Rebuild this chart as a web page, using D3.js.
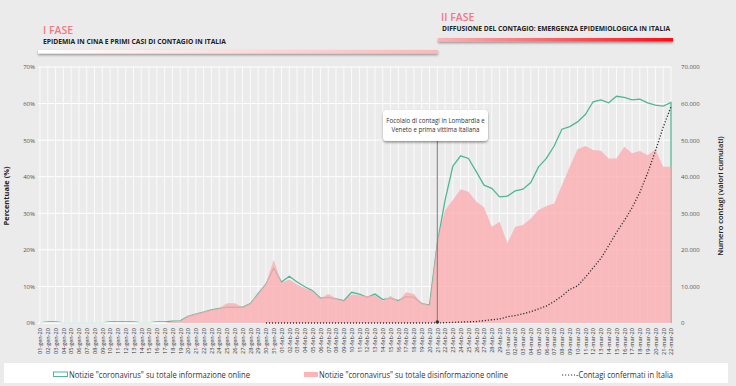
<!DOCTYPE html>
<html>
<head>
<meta charset="utf-8">
<script src="https://cdn.jsdelivr.net/npm/d3@7"></script>
<style>
  body { margin: 0; background: #ebebeb; }
  svg { display: block; font-family: "Open Sans", sans-serif; }
</style>
</head>
<body>
<svg width="736" height="386"></svg>
<script>
// mesi e giorni sull'asse x
var months = ["gen", "feb", "mar"];
var monthDays = [31, 29, 22];

// % notizie "coronavirus" su totale informazione online
var info = [0, 0.3, 0.3, 0, 0, 0, 0, 0, 0, 0.3, 0.3, 0.3, 0.3, 0, 0, 0.3, 0.3,
  0.5, 0.6, 1.8, 2.4, 3.0, 3.6, 4.0, 4.3, 4.3, 4.3, 5.3, 8.0, 10.6, 15.0,
  11.2, 12.8, 11.2, 9.9, 8.8, 6.8, 7.0, 6.6, 6.1, 8.4, 7.9, 7.0, 7.9, 6.4, 6.8, 6.1, 7.2, 7.0, 5.3, 4.9,
  21.8, 33.6, 42.9, 45.7, 45.0, 41.4, 37.7, 36.8, 34.5,
  34.7, 36.1, 36.6, 38.4, 42.7, 45.0, 48.4, 53.0, 53.7, 55.0, 57.0, 60.5, 61.0, 60.2, 62.0, 61.7,
  61.0, 61.2, 60.2, 59.6, 59.3, 60.3];

// % notizie "coronavirus" su totale disinformazione online
var disinfo = [0, 0, 0, 0, 0, 0, 0, 0, 0, 0, 0, 0, 0, 0, 0, 0, 0,
  0.5, 0.6, 1.9, 2.5, 3.1, 3.6, 4.0, 5.4, 5.4, 4.3, 5.4, 8.1, 10.8, 17.2,
  11.0, 11.9, 10.5, 9.5, 8.8, 6.7, 7.9, 6.7, 6.1, 7.8, 7.6, 7.3, 7.6, 6.1, 7.4, 6.0, 8.4, 7.9, 5.4, 4.9,
  22.7, 30.9, 33.6, 36.6, 35.9, 33.2, 31.6, 26.3, 27.7,
  21.8, 26.3, 26.8, 28.6, 30.9, 32.0, 32.7, 37.7, 42.7, 47.5, 48.4, 47.3, 47.1, 45.0, 45.0, 48.2,
  46.4, 47.0, 45.9, 47.5, 42.7, 42.7];

// contagi confermati in Italia (cumulati), dal 30-gen
var contagi = [null, null, null, null, null, null, null, null, null, null, null, null, null, null, null,
  null, null, null, null, null, null, null, null, null, null, null, null, null, null, 2, 2,
  2, 2, 2, 2, 2, 3, 3, 3, 3, 3, 3, 3, 3, 3, 3, 3, 3, 3, 3, 3,
  20, 79, 150, 229, 322, 400, 650, 888, 1128,
  1694, 2036, 2502, 3089, 3858, 4636, 5883, 7375, 9172, 10149, 12462, 15113, 17660, 21157, 24747, 27980,
  31506, 35713, 41035, 47021, 53578, 59138];

var pctTicks = [0, 10, 20, 30, 40, 50, 60, 70];
var casiTicks = [0, 10000, 20000, 30000, 40000, 50000, 60000, 70000];

var labels = [];
months.forEach(function (m, k) {
  for (var d = 1; d <= monthDays[k]; d++) {
    labels.push((d < 10 ? "0" + d : "" + d) + "-" + m + "-20");
  }
});

var svg = d3.select("svg");
var green = "#4fb893", pink = "#fcacaf";
var plotTop = 67, plotBottom = 323, plotLeft = 40, plotRight = 671;

var x = d3.scalePoint().domain(d3.range(labels.length)).range([plotLeft, plotRight]);
var y = d3.scaleLinear().domain([0, 70]).range([plotBottom, plotTop]);
var yR = d3.scaleLinear().domain([0, 70000]).range([plotBottom, plotTop]);
var it = d3.formatLocale({ decimal: ",", thousands: ".", grouping: [3], currency: ["", "€"] });

var defs = svg.append("defs");
var g1 = defs.append("linearGradient").attr("id", "fase1");
g1.append("stop").attr("offset", "0%").attr("stop-color", "#ffffff");
g1.append("stop").attr("offset", "100%").attr("stop-color", "#f9b9ba");
var g2 = defs.append("linearGradient").attr("id", "fase2");
g2.append("stop").attr("offset", "0%").attr("stop-color", "#fbb3b6");
g2.append("stop").attr("offset", "100%").attr("stop-color", "#ff0a14");
var sh = defs.append("filter").attr("id", "shadow").attr("x", "-10%").attr("y", "-100%")
  .attr("width", "120%").attr("height", "400%");
sh.append("feDropShadow").attr("dx", 0).attr("dy", 1.5).attr("stdDeviation", 1)
  .attr("flood-color", "#000").attr("flood-opacity", 0.4);

// griglia
svg.append("g").selectAll("line").data(d3.range(labels.length)).enter().append("line")
  .attr("x1", function (d) { return x(d); }).attr("x2", function (d) { return x(d); })
  .attr("y1", plotTop).attr("y2", plotBottom)
  .attr("stroke", "#fff").attr("stroke-width", 0.8);
svg.append("g").selectAll("line").data(pctTicks.slice(1)).enter().append("line")
  .attr("x1", plotLeft - 2).attr("x2", plotRight)
  .attr("y1", function (d) { return y(d); }).attr("y2", function (d) { return y(d); })
  .attr("stroke", "#fff").attr("stroke-width", 1);

// assi
var yAxis = svg.append("g").attr("transform", "translate(" + (plotLeft - 2) + ",0)")
  .call(d3.axisLeft(y).tickValues(pctTicks).tickSize(0).tickPadding(3).tickFormat(function (d) { return d + "%"; }));
var yAxisR = svg.append("g").attr("transform", "translate(" + (plotRight + 7) + ",0)")
  .call(d3.axisRight(yR).tickValues(casiTicks).tickSize(0).tickPadding(3).tickFormat(function (d) { return d === 0 ? "0" : it.format(",")(d); }));
[yAxis, yAxisR].forEach(function (a) {
  a.select(".domain").remove();
  a.selectAll("text").attr("font-size", "6px").attr("fill", "#555").attr("font-family", "Open Sans");
});

var xAxis = svg.append("g").attr("transform", "translate(0," + (plotBottom + 2) + ")")
  .call(d3.axisBottom(x).tickSize(0).tickPadding(0).tickFormat(function (i) { return labels[i]; }));
xAxis.select(".domain").remove();
xAxis.selectAll("text")
  .attr("font-size", "5.6px").attr("fill", "#333").attr("font-family", "Open Sans")
  .attr("text-anchor", "end").attr("dy", "0.32em").attr("dx", "-1")
  .attr("transform", "rotate(-90)")
  .attr("x", -2).attr("y", 0);

// serie informazione (solo contorno)
var infoPts = [{ i: 0, v: 0 }].concat(info.map(function (v, i) { return { i: i, v: v }; }))
  .concat([{ i: info.length - 1, v: 0 }]);
svg.append("path").datum(infoPts)
  .attr("fill", "none").attr("stroke", green).attr("stroke-width", 1.3)
  .attr("d", d3.line().x(function (d) { return x(d.i); }).y(function (d) { return y(d.v); }));

// linea dello 0% sopra il contorno verde
svg.append("line").attr("x1", plotLeft - 2).attr("x2", plotRight - 1)
  .attr("y1", y(0)).attr("y2", y(0)).attr("stroke", "#fff").attr("stroke-width", 1.6);

// serie disinformazione
svg.append("path").datum(disinfo)
  .attr("fill", pink).attr("fill-opacity", 0.78)
  .attr("d", d3.area().x(function (d, i) { return x(i); }).y0(y(0)).y1(function (d) { return y(d); }));

// contagi
svg.append("path").datum(contagi)
  .attr("fill", "none").attr("stroke", "#333").attr("stroke-width", 1.3)
  .attr("stroke-dasharray", "1.2,1.8")
  .attr("d", d3.line().defined(function (d) { return d !== null; })
    .x(function (d, i) { return x(i); }).y(function (d) { return yR(d); }));

// titoli assi
svg.append("text").attr("transform", "translate(9,196) rotate(-90)")
  .attr("text-anchor", "middle").attr("font-size", "7.5px").attr("font-weight", "bold")
  .attr("fill", "#222").text("Percentuale (%)");
svg.append("text").attr("transform", "translate(723,196) rotate(-90)")
  .attr("text-anchor", "middle").attr("font-size", "7.5px").attr("font-weight", "600")
  .attr("fill", "#222").text("Numero contagi (valori cumulati)");

// annotazione 21-feb
var ann = 51;
svg.append("line").attr("x1", x(ann)).attr("x2", x(ann)).attr("y1", 140).attr("y2", plotBottom - 1)
  .attr("stroke", "#777").attr("stroke-width", 1);
svg.append("circle").attr("cx", x(ann)).attr("cy", plotBottom - 1).attr("r", 1.8).attr("fill", "#333");
svg.append("rect").attr("x", 383).attr("y", 110).attr("width", 105).attr("height", 31).attr("rx", 4)
  .attr("fill", "#fff").attr("filter", "url(#shadow)");
svg.append("text").attr("x", 435.5).attr("y", 123).attr("text-anchor", "middle")
  .attr("font-size", "6.2px").attr("fill", "#333").text("Focolaio di contagi in Lombardia e");
svg.append("text").attr("x", 435.5).attr("y", 132).attr("text-anchor", "middle")
  .attr("font-size", "6.2px").attr("fill", "#333").text("Veneto e prima vittima italiana");

// fasi
svg.append("rect").attr("x", 38).attr("y", 50).attr("width", 400).attr("height", 3.5)
  .attr("fill", "url(#fase1)").attr("filter", "url(#shadow)");
svg.append("rect").attr("x", 438).attr("y", 38).attr("width", 235).attr("height", 3.5)
  .attr("fill", "url(#fase2)").attr("filter", "url(#shadow)");
svg.append("text").attr("x", 43).attr("y", 33.5).attr("font-size", "10.5px").attr("font-weight", "600")
  .attr("fill", "#f27884").text("I FASE");
svg.append("text").attr("x", 43).attr("y", 44).attr("font-size", "6.8px").attr("font-weight", "bold")
  .attr("fill", "#222").attr("textLength", 183).attr("lengthAdjust", "spacingAndGlyphs")
  .text("EPIDEMIA IN CINA E PRIMI CASI DI CONTAGIO IN ITALIA");
svg.append("text").attr("x", 441).attr("y", 20.5).attr("font-size", "10.5px").attr("font-weight", "600")
  .attr("fill", "#f27884").text("II FASE");
svg.append("text").attr("x", 442).attr("y", 31).attr("font-size", "6.8px").attr("font-weight", "bold")
  .attr("fill", "#222").attr("textLength", 228).attr("lengthAdjust", "spacingAndGlyphs")
  .text("DIFFUSIONE DEL CONTAGIO: EMERGENZA EPIDEMIOLOGICA IN ITALIA");

// legenda
var leg = svg.append("g");
leg.append("rect").attr("x", 4).attr("y", 363).attr("width", 724).attr("height", 20).attr("fill", "#fff");
leg.append("rect").attr("x", 53.5).attr("y", 372).attr("width", 14).attr("height", 4.5)
  .attr("fill", "#fff").attr("stroke", green).attr("stroke-width", 1);
leg.append("text").attr("x", 69).attr("y", 377.5).attr("font-size", "8.3px").attr("fill", "#333")
  .attr("textLength", 181).attr("lengthAdjust", "spacingAndGlyphs")
  .text("Notizie \"coronavirus\" su totale informazione online");
leg.append("rect").attr("x", 304).attr("y", 372).attr("width", 14).attr("height", 5)
  .attr("fill", pink).attr("fill-opacity", 0.9);
leg.append("text").attr("x", 319).attr("y", 377.5).attr("font-size", "8.3px").attr("fill", "#333")
  .attr("textLength", 189).attr("lengthAdjust", "spacingAndGlyphs")
  .text("Notizie \"coronavirus\" su totale disinformazione online");
leg.append("line").attr("x1", 562).attr("x2", 575).attr("y1", 375).attr("y2", 375)
  .attr("stroke", "#333").attr("stroke-width", 1.2).attr("stroke-dasharray", "1.2,1.8");
leg.append("text").attr("x", 576).attr("y", 377.5).attr("font-size", "8.3px").attr("fill", "#333")
  .attr("textLength", 97).attr("lengthAdjust", "spacingAndGlyphs")
  .text("-Contagi confermati in Italia");
</script>
</body>
</html>
